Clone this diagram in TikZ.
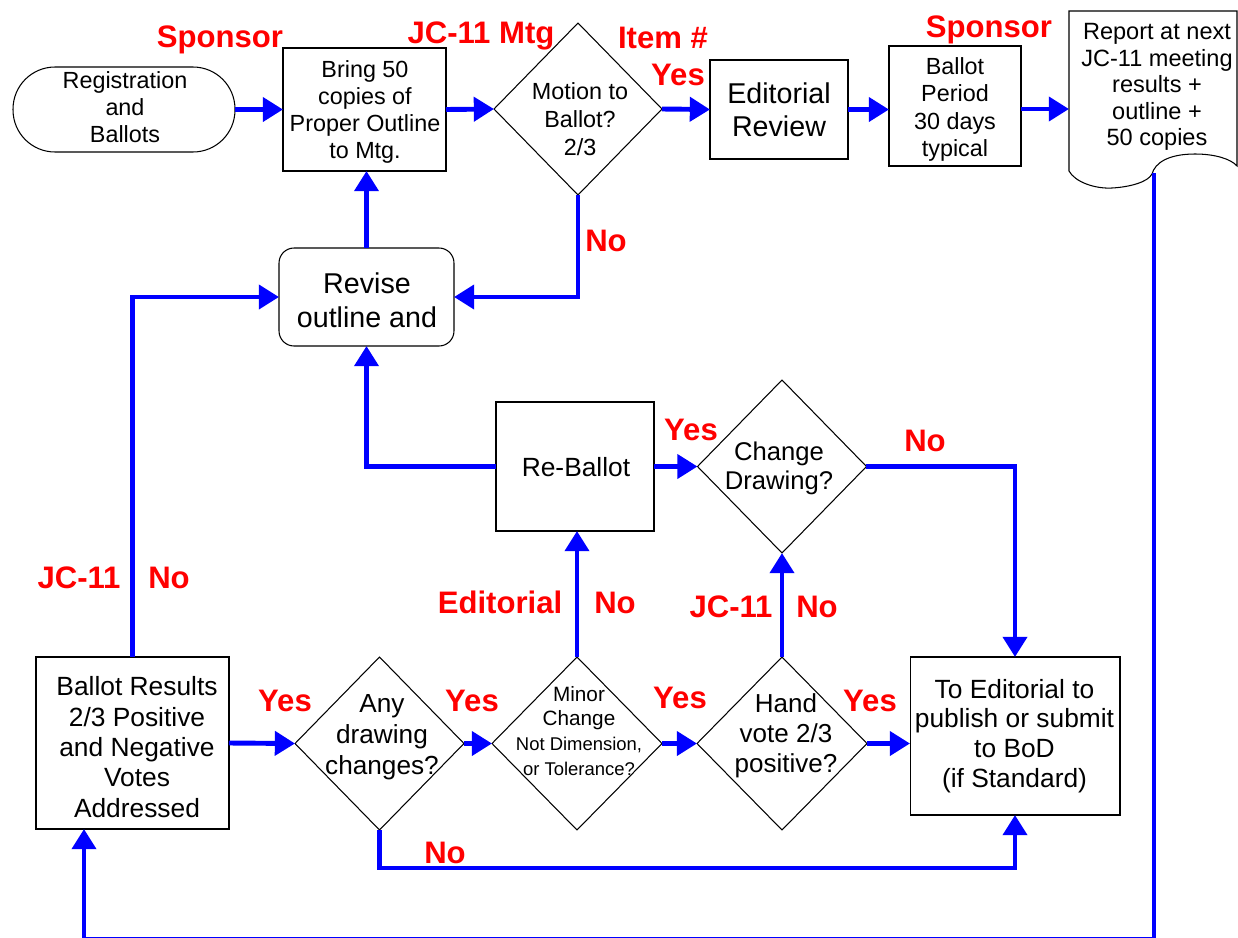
\documentclass[tikz,border=0pt]{standalone}
\usepackage{fontspec}
\setmainfont{Liberation Sans}
\usetikzlibrary{shapes.geometric,arrows.meta,calc}
\definecolor{fblue}{RGB}{0,0,255}
\definecolor{fred}{RGB}{255,0,0}
\newcommand\smallmc{\fontsize{10.5}{11.9}\selectfont}
\begin{document}
\begin{tikzpicture}[x=0.02cm,y=-0.02cm,
  box/.style={draw, line width=0.6pt, inner sep=0pt, outer sep=0pt},
  dia/.style={draw, diamond, line width=0.6pt, inner sep=0pt, outer sep=0pt},
  conn/.style={draw=fblue, line width=2.8pt, -{Triangle[length=11.5pt,width=13.5pt]}},
  lab/.style={text=fred, font=\fontsize{17.7}{20}\selectfont\bfseries, inner sep=0pt, anchor=base},
  txt/.style={align=center, inner sep=0pt},
  fa/.style={font=\fontsize{13.3}{15.4}\selectfont},
]
\useasboundingbox (0,0) rectangle (1238,937);

% ---- top row ----
\node[box, rounded corners=0.84cm, minimum width=4.44cm, minimum height=1.7cm] (reg) at (124,109.5) {};
\node[txt, fa] at (125,107.5) {Registration\\and\\Ballots};

\node[box, minimum width=3.26cm, minimum height=2.46cm] (bring) at (364.5,109.5) {};
\node[txt, fa] at (365,112) {Bring 50\\copies of\\Proper Outline\\to Mtg.};

\node[dia, minimum width=3.36cm, minimum height=3.44cm] (mot) at (578,109) {};
\node[txt, font=\fontsize{13.3}{15.8}\selectfont] at (580,119) {Motion to\\Ballot?\\2/3};

\node[box, minimum width=2.76cm, minimum height=1.98cm] (edr) at (779,109.5) {};
\node[txt, font=\fontsize{16.3}{18.7}\selectfont] at (779,110) {Editorial\\Review};

\node[box, minimum width=2.64cm, minimum height=2.4cm] (bp) at (955,106) {};
\node[txt, font=\fontsize{13.3}{15.6}\selectfont] at (955,109.5) {Ballot\\Period\\30 days\\typical};

% report (document shape)
\draw[line width=0.6pt] (1069,11) -- (1069,171)
  .. controls (1075,182) and (1095,189) .. (1112,188)
  .. controls (1130,187) and (1148,182) .. (1152,174)
  .. controls (1155,163) and (1168,154) .. (1195,154)
  .. controls (1215,154) and (1231,159) .. (1237,166)
  -- (1237,11) -- cycle;
\node[txt, font=\fontsize{13.4}{15.1}\selectfont] (rep) at (1157,87) {Report at next\\JC-11 meeting\\results +\\outline +\\50 copies};
\coordinate (repw) at (1069,109);
\coordinate (repb) at (1154,173);

% ---- middle ----
\node[box, rounded corners=0.3cm, minimum width=3.5cm, minimum height=1.96cm] (rev) at (366.5,297) {};
\node[txt, font=\fontsize{16.3}{19.3}\selectfont] at (367,300) {Revise\\outline and};

\node[box, minimum width=3.16cm, minimum height=2.58cm] (rb) at (575,466.5) {};
\node[txt, font=\fontsize{15}{18}\selectfont] at (576,467) {Re-Ballot};

\node[dia, minimum width=3.38cm, minimum height=3.46cm] (cd) at (782,466.5) {};
\node[txt, font=\fontsize{14.6}{16.6}\selectfont] at (779,468) {Change\\Drawing?};

% ---- bottom row ----
\node[box, minimum width=3.86cm, minimum height=3.44cm] (br) at (132.5,743) {};
\node[txt, font=\fontsize{15}{17.3}\selectfont] at (137,747) {Ballot Results\\2/3 Positive\\and Negative\\Votes\\Addressed};

\node[dia, minimum width=3.38cm, minimum height=3.46cm] (any) at (379.5,743.5) {};
\node[txt, font=\fontsize{14.9}{17.7}\selectfont] at (382,737) {Any\\drawing\\changes?};

\node[dia, minimum width=3.4cm, minimum height=3.46cm] (mc) at (577,743.5) {};
\node[txt, font=\fontsize{11.8}{14.2}\selectfont] at (579,731) {Minor\\Change\\{\smallmc Not Dimension,}\\{\smallmc or Tolerance?}};

\node[dia, minimum width=3.4cm, minimum height=3.46cm] (hv) at (782,743.5) {};
\node[txt, font=\fontsize{14.8}{17.2}\selectfont] at (786,736) {Hand\\vote 2/3\\positive?};

\node[box, minimum width=4.2cm, minimum height=3.16cm] (toed) at (1015,736) {};
\node[txt, font=\fontsize{15}{17}\selectfont] at (1014.5,736) {To Editorial to\\publish or submit\\to BoD\\(if Standard)};

\coordinate (bl) at (84,939.5);
\coordinate (brc) at (1154,939.5);

% ---- connectors ----
\draw[conn] (reg.east) -- (bring.west);
\draw[conn] (bring.east) -- (mot.west);
\draw[conn] (mot.east) -- (edr.west);
\draw[conn] (edr.east) -- (edr.east -| bp.west);
\draw[conn] (bp.east |- repw) -- (repw);
\draw[conn] (rev.north) -- (rev.north |- bring.south);
\draw[conn] (mot.south) |- (rev.east);
\draw[conn] (br.north) |- (rev.west);
\draw[conn] (rb.west) -| (rev.south);
\draw[conn] (rb.east) -- (cd.west);
\draw[conn] (cd.east) -| (toed.north);
\draw[conn] (br.east) -- (any.west);
\draw[conn] (any.east) -- (mc.west);
\draw[conn] (mc.east) -- (hv.west);
\draw[conn] (hv.east) -- (hv.east -| toed.west);
\draw[conn] (mc.north) -- (mc.north |- rb.south);
\draw[conn] (hv.north) -- (cd.south);
\draw[conn] (any.south) -- ++(0,38) -| (toed.south);
\draw[conn] (repb) -- (brc) -- (bl) -- (bl |- br.south);

% ---- labels ----
\node[lab] at (220,47) {Sponsor};
\node[lab] at (481,43) {JC-11 Mtg};
\node[lab] at (663,48) {Item \#};
\node[lab] at (678,85) {Yes};
\node[lab] at (989,37) {Sponsor};
\node[lab] at (606,251) {No};
\node[lab] at (79,588) {JC-11};
\node[lab] at (169,588) {No};
\node[lab] at (691,440) {Yes};
\node[lab] at (925,451) {No};
\node[lab] at (500,613) {Editorial};
\node[lab] at (615,613) {No};
\node[lab] at (731,617) {JC-11};
\node[lab] at (817,617) {No};
\node[lab] at (285,711) {Yes};
\node[lab] at (472,711) {Yes};
\node[lab] at (680,708) {Yes};
\node[lab] at (870,711) {Yes};
\node[lab] at (445,863) {No};
\end{tikzpicture}
\end{document}
